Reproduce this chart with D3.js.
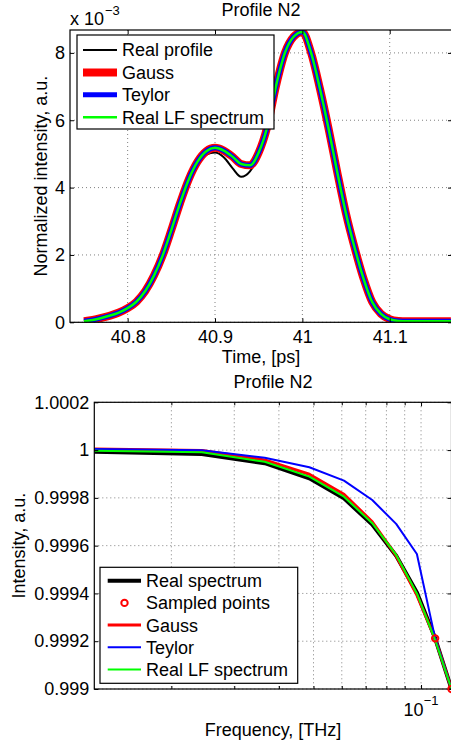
<!DOCTYPE html>
<html><head><meta charset="utf-8">
<script src="https://cdn.jsdelivr.net/npm/d3@7"></script>
<style>
body{margin:0;background:#fff}
svg{display:block}
text{font-family:"Liberation Sans",Arial,Helvetica,sans-serif;fill:#000}
</style>
</head><body>
<svg id="c" width="451" height="747"></svg>
<script>
// ---------- TOP PLOT DATA (intensity in units of 1e-3) ----------
const timePs = [40.75,40.76,40.77,40.78,40.79,40.80,40.81,40.82,40.83,40.84,40.85,40.86,40.87,40.88,40.89,40.90,40.91,40.92,40.93,40.94,40.95,40.96,40.97,40.98,40.99,41.00,41.01,41.02,41.03,41.04,41.05,41.06,41.07,41.08,41.09,41.10,41.11,41.12,41.13,41.14,41.15,41.16,41.17];
const realProfile = [0.03,0.07,0.13,0.20,0.29,0.42,0.61,0.92,1.38,1.98,2.74,3.54,4.22,4.72,4.98,5.04,4.90,4.58,4.32,4.48,4.98,5.85,7.10,8.10,8.58,8.66,8.02,6.95,5.75,4.45,3.22,2.20,1.30,0.60,0.25,0.09,0.04,0.03,0.03,0.03,0.03,0.03,0.03];
const gaussProfile = [0.03,0.07,0.13,0.20,0.29,0.42,0.61,0.92,1.38,1.98,2.74,3.54,4.25,4.77,5.08,5.18,5.10,4.92,4.70,4.66,5.04,5.82,7.04,8.00,8.48,8.62,8.00,6.95,5.75,4.45,3.22,2.20,1.30,0.60,0.25,0.09,0.04,0.03,0.03,0.03,0.03,0.03,0.03];
const teylorProfile = [0.03,0.07,0.13,0.20,0.29,0.42,0.61,0.92,1.38,1.98,2.74,3.54,4.25,4.77,5.08,5.18,5.10,4.92,4.70,4.66,5.04,5.82,7.04,8.00,8.48,8.62,8.00,6.95,5.75,4.45,3.22,2.20,1.30,0.60,0.25,0.09,0.04,0.03,0.03,0.03,0.03,0.03,0.03];
const lfProfile = [0.03,0.07,0.13,0.20,0.29,0.42,0.61,0.92,1.38,1.98,2.74,3.54,4.25,4.77,5.08,5.18,5.10,4.92,4.70,4.66,5.04,5.82,7.04,8.00,8.48,8.62,8.00,6.95,5.75,4.45,3.22,2.20,1.30,0.60,0.25,0.09,0.04,0.03,0.03,0.03,0.03,0.03,0.03];
const timeTicks = [40.8, 40.9, 41, 41.1];
const timeTickLabels = ["40.8","40.9","41","41.1"];
const intTicks = [0, 2, 4, 6, 8];
const intTickLabels = ["0","2","4","6","8"];

// ---------- BOTTOM PLOT DATA ----------
const freqTHz = [0.01217,0.02434,0.03651,0.04868,0.06085,0.07302,0.08519,0.09736,0.10953,0.1217];
const realSpectrum = [0.999993,0.999984,0.999945,0.999882,0.999798,0.999688,0.999558,0.999404,0.999212,0.999000];
const gaussSpectrum = [1.000005,0.999998,0.999959,0.999899,0.999815,0.999700,0.999558,0.999393,0.999210,0.999000];
const teylorSpectrum = [1.000005,0.999999,0.999968,0.999928,0.999872,0.999791,0.999691,0.999565,0.999212,0.999000];
const lfSpectrum = [0.999997,0.999991,0.999951,0.999889,0.999805,0.999694,0.999561,0.999400,0.999205,0.999000];
const sampledFreq = [0.10953, 0.1217];
const sampledVal = [0.999212, 0.999000];
const specTicks = [0.999,0.9992,0.9994,0.9996,0.9998,1,1.0002];
const specTickLabels = ["0.999","0.9992","0.9994","0.9996","0.9998","1","1.0002"];
const freqMajor = [0.1];
const freqMinor = [0.02,0.03,0.04,0.05,0.06,0.07,0.08,0.09];

const svg = d3.select('#c');
const FS = 18;
const GRID = "#808080";

function frame(g, x, y, B, xT, yT, xMinor) {
  const grid = g.append('g');
  const allX = xT.concat(xMinor || []);
  grid.selectAll('line.gx').data(allX).join('line')
    .attr('x1', d => x(d)).attr('x2', d => x(d))
    .attr('y1', B.top).attr('y2', B.bottom)
    .attr('stroke', GRID).attr('stroke-width', 1).attr('stroke-dasharray', '1,3');
  grid.selectAll('line.gy').data(yT).join('line')
    .attr('x1', B.left).attr('x2', B.right)
    .attr('y1', d => y(d)).attr('y2', d => y(d))
    .attr('stroke', GRID).attr('stroke-width', 1).attr('stroke-dasharray', '1,3');
}

function axesBox(g, x, y, B, xT, yT, yLabels, xLabels, xMinor) {
  const fmtY = d => yLabels[yT.indexOf(d)];
  const ax = [];
  ax.push(g.append('g').attr('transform', `translate(0,${B.bottom})`)
    .call(d3.axisBottom(x).tickValues(xT).tickSizeInner(-4).tickSizeOuter(0).tickPadding(8)
      .tickFormat(xLabels ? (d => xLabels[xT.indexOf(d)]) : () => "")));
  ax.push(g.append('g').attr('transform', `translate(0,${B.top})`)
    .call(d3.axisTop(x).tickValues(xT).tickSizeInner(-4).tickSizeOuter(0).tickFormat(() => "")));
  if (xMinor) {
    ax.push(g.append('g').attr('transform', `translate(0,${B.bottom})`)
      .call(d3.axisBottom(x).tickValues(xMinor).tickSizeInner(-3).tickSizeOuter(0).tickFormat(() => "")));
    ax.push(g.append('g').attr('transform', `translate(0,${B.top})`)
      .call(d3.axisTop(x).tickValues(xMinor).tickSizeInner(-3).tickSizeOuter(0).tickFormat(() => "")));
  }
  ax.push(g.append('g').attr('transform', `translate(${B.left},0)`)
    .call(d3.axisLeft(y).tickValues(yT).tickSizeInner(-4).tickSizeOuter(0).tickPadding(5).tickFormat(fmtY)));
  ax.push(g.append('g').attr('transform', `translate(${B.right},0)`)
    .call(d3.axisRight(y).tickValues(yT).tickSizeInner(-4).tickSizeOuter(0).tickFormat(() => "")));
  ax.forEach(a => {
    a.select('.domain').remove();
    a.selectAll('.tick line').attr('stroke', '#000').attr('stroke-width', 1);
    a.selectAll('.tick text').attr('font-size', FS).attr('font-family', '"Liberation Sans",Arial,sans-serif').attr('fill', '#000');
  });
  g.append('rect').attr('x', B.left).attr('y', B.top)
    .attr('width', B.right - B.left).attr('height', B.bottom - B.top)
    .attr('fill', 'none').attr('stroke', '#000').attr('stroke-width', 1.2);
}

// ================= TOP =================
const B1 = {left: 70, right: 452, top: 30, bottom: 322.3};
const x1 = d3.scaleLinear().domain([40.734, 41.1713]).range([B1.left, B1.right]);
const y1 = d3.scaleLinear().domain([0, 8.68]).range([B1.bottom, B1.top]);
const g1 = svg.append('g');
frame(g1, x1, y1, B1, timeTicks, intTicks);

svg.append('clipPath').attr('id', 'clip1').append('rect')
  .attr('x', B1.left).attr('y', B1.top).attr('width', B1.right - B1.left).attr('height', B1.bottom - B1.top);
const line1 = d3.line().x((d, i) => x1(timePs[i])).y(d => y1(d)).curve(d3.curveMonotoneX);
const topSeries = [
  {name: 'Real profile', data: realProfile, color: '#000', w: 2},
  {name: 'Gauss', data: gaussProfile, color: '#ff0000', w: 8},
  {name: 'Teylor', data: teylorProfile, color: '#0000ff', w: 5},
  {name: 'Real LF spectrum', data: lfProfile, color: '#00ff00', w: 2.5}
];
const lg1 = g1.append('g').attr('clip-path', 'url(#clip1)');
topSeries.forEach(s => lg1.append('path').attr('d', line1(s.data)).attr('fill', 'none')
  .attr('stroke', s.color).attr('stroke-width', s.w).attr('stroke-linejoin', 'round'));
axesBox(g1, x1, y1, B1, timeTicks, intTicks, intTickLabels, timeTickLabels);

svg.append('text').attr('x', 261).attr('y', 16).attr('text-anchor', 'middle').attr('font-size', FS).text('Profile N2');
const ex = svg.append('text').attr('x', 70).attr('y', 25).attr('font-size', FS);
ex.append('tspan').text('x 10');
ex.append('tspan').attr('font-size', 13).attr('dy', -10).attr('dx', 1).text('\u22123');
svg.append('text').attr('transform', `translate(47,${(B1.top + B1.bottom) / 2}) rotate(-90)`)
  .attr('text-anchor', 'middle').attr('font-size', FS).text('Normalized intensity, a.u.');
svg.append('text').attr('x', 261).attr('y', 363).attr('text-anchor', 'middle').attr('font-size', FS).text('Time, [ps]');

const L1 = svg.append('g');
L1.append('rect').attr('x', 77).attr('y', 35).attr('width', 197).attr('height', 94)
  .attr('fill', '#fff').attr('stroke', '#000').attr('stroke-width', 1.2);
topSeries.forEach((s, i) => {
  const yy = 50 + i * 22.4;
  L1.append('line').attr('x1', 83).attr('x2', 117).attr('y1', yy).attr('y2', yy)
    .attr('stroke', s.color).attr('stroke-width', s.w);
  L1.append('text').attr('x', 122).attr('y', yy).attr('dy', '0.36em').attr('font-size', FS).text(s.name);
});

// ================= BOTTOM =================
const B2 = {left: 94.3, right: 451.5, top: 402.3, bottom: 689};
const x2 = d3.scaleLog().domain([0.01217, 0.1217]).range([B2.left, B2.right]);
const y2 = d3.scaleLinear().domain([0.999, 1.0002]).range([B2.bottom, B2.top]);
const g2 = svg.append('g');
frame(g2, x2, y2, B2, freqMajor, specTicks, freqMinor);
svg.append('clipPath').attr('id', 'clip2').append('rect')
  .attr('x', B2.left).attr('y', B2.top).attr('width', B2.right - B2.left).attr('height', B2.bottom - B2.top);
const line2 = d3.line().x((d, i) => x2(freqTHz[i])).y(d => y2(d));
const lg2 = g2.append('g').attr('clip-path', 'url(#clip2)');
const botSeries = [
  {name: 'Real spectrum', data: realSpectrum, color: '#000', w: 4},
  {name: 'Sampled points', marker: true},
  {name: 'Gauss', data: gaussSpectrum, color: '#ff0000', w: 3},
  {name: 'Teylor', data: teylorSpectrum, color: '#0000ff', w: 2},
  {name: 'Real LF spectrum', data: lfSpectrum, color: '#00ff00', w: 2}
];
botSeries.forEach(s => {
  if (s.marker) return;
  lg2.append('path').attr('d', line2(s.data)).attr('fill', 'none')
    .attr('stroke', s.color).attr('stroke-width', s.w).attr('stroke-linejoin', 'round');
});
axesBox(g2, x2, y2, B2, freqMajor, specTicks, specTickLabels, null, freqMinor);
g2.selectAll('circle.sp').data(sampledFreq).join('circle')
  .attr('cx', d => x2(d)).attr('cy', (d, i) => y2(sampledVal[i])).attr('r', 3.2)
  .attr('fill', 'none').attr('stroke', '#ff0000').attr('stroke-width', 2);
const xl = svg.append('text').attr('x', x2(0.1)).attr('y', 715.5).attr('text-anchor', 'middle').attr('font-size', FS);
xl.append('tspan').text('10');
xl.append('tspan').attr('font-size', 13).attr('dy', -11).attr('dx', 0).text('\u22121');

svg.append('text').attr('x', 273).attr('y', 388).attr('text-anchor', 'middle').attr('font-size', FS).text('Profile N2');
svg.append('text').attr('transform', `translate(25,${(B2.top + B2.bottom) / 2}) rotate(-90)`)
  .attr('text-anchor', 'middle').attr('font-size', FS).text('Intensity, a.u.');
svg.append('text').attr('x', 273).attr('y', 735.5).attr('text-anchor', 'middle').attr('font-size', FS).text('Frequency, [THz]');

const L2 = svg.append('g');
L2.append('rect').attr('x', 100).attr('y', 567.3).attr('width', 197.7).attr('height', 116)
  .attr('fill', '#fff').attr('stroke', '#000').attr('stroke-width', 1.2);
botSeries.forEach((s, i) => {
  const yy = 580.7 + i * 22.2;
  if (s.marker) {
    L2.append('circle').attr('cx', 124.5).attr('cy', yy).attr('r', 3.2)
      .attr('fill', 'none').attr('stroke', '#ff0000').attr('stroke-width', 2);
  } else {
    L2.append('line').attr('x1', 107.7).attr('x2', 141).attr('y1', yy).attr('y2', yy)
      .attr('stroke', s.color).attr('stroke-width', s.w);
  }
  L2.append('text').attr('x', 146).attr('y', yy).attr('dy', '0.36em').attr('font-size', FS).text(s.name);
});
</script>
</body></html>
